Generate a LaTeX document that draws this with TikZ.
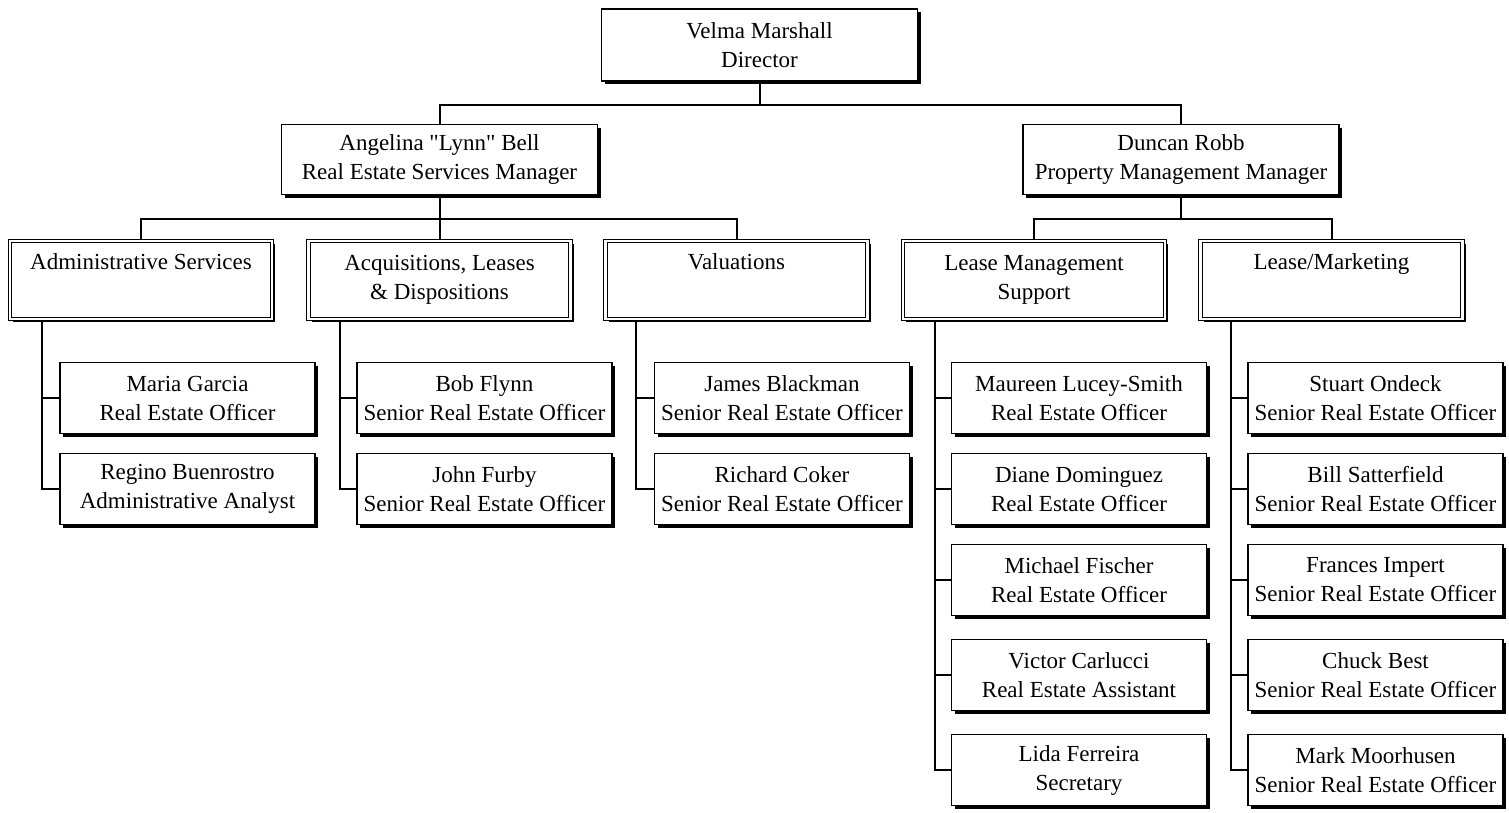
\documentclass[tikz,border=0pt]{standalone}
\usepackage{fontspec}
\setmainfont{Liberation Serif}[Ligatures=TeXOff]
\usetikzlibrary{shadows}
\begin{document}
\begin{tikzpicture}[x=0.5pt,y=-0.5pt,
  base/.style={draw, line width=0.75pt, fill=white, align=center, inner sep=0pt,
    font=\fontsize{11.5}{14.5}\selectfont,
    drop shadow={shadow xshift=1.6pt, shadow yshift=-1.6pt, opacity=1, fill=black}},
  topbox/.style={base, minimum width=158pt, minimum height=36pt},
  mgrbox/.style={base, minimum width=158pt, minimum height=35pt},
  deptbox/.style={base, double, double distance=1.1pt, line width=0.6pt, minimum width=131pt, minimum height=39pt},
  empbox/.style={base, minimum width=127.5pt, minimum height=35.5pt},
  link/.style={line width=1pt}]
\useasboundingbox (0,0) rectangle (1509,813);

% top
\node[topbox] (dir) at (759.5,45) {Velma Marshall\\Director};
\node[mgrbox] (ang) at (439.5,159.5) {Angelina "Lynn" Bell\\Real Estate Services Manager};
\node[mgrbox] (dun) at (1181,159.5) {Duncan Robb\\Property Management Manager};

% departments
\node[deptbox] (adm) at (141,280) {Administrative Services\\\strut};
\node[deptbox] (acq) at (439.5,280) {Acquisitions, Leases\\\& Dispositions};
\node[deptbox] (val) at (736.5,280) {Valuations\\\strut};
\node[deptbox] (lms) at (1034,280) {Lease Management\\Support};
\node[deptbox] (lmk) at (1331.5,280) {Lease/Marketing\\\strut};

% employees
\node[empbox] (mg) at (187.5,398) {Maria Garcia\\Real Estate Officer};
\node[empbox] (rb) at (187.5,489) {Regino Buenrostro\\Administrative Analyst};
\node[empbox] (bf) at (484.5,398) {Bob Flynn\\Senior Real Estate Officer};
\node[empbox] (jf) at (484.5,489) {John Furby\\Senior Real Estate Officer};
\node[empbox] (jb) at (782,398) {James Blackman\\Senior Real Estate Officer};
\node[empbox] (rc) at (782,489) {Richard Coker\\Senior Real Estate Officer};

\node[empbox] (ml) at (1079,398) {Maureen Lucey-Smith\\Real Estate Officer};
\node[empbox] (dd) at (1079,489) {Diane Dominguez\\Real Estate Officer};
\node[empbox] (mf) at (1079,580) {Michael Fischer\\Real Estate Officer};
\node[empbox] (vc) at (1079,675) {Victor Carlucci\\Real Estate Assistant};
\node[empbox] (lf) at (1079,770) {Lida Ferreira\\Secretary};

\node[empbox] (so) at (1375.5,398) {Stuart Ondeck\\Senior Real Estate Officer};
\node[empbox] (bs) at (1375.5,489) {Bill Satterfield\\Senior Real Estate Officer};
\node[empbox] (fi) at (1375.5,580) {Frances Impert\\Senior Real Estate Officer};
\node[empbox] (cb) at (1375.5,675) {Chuck Best\\Senior Real Estate Officer};
\node[empbox] (mm) at (1375.5,770) {Mark Moorhusen\\Senior Real Estate Officer};

% connectors
\draw[link] (dir.south) -- ++(0,23) -| (ang.north);
\draw[link] (dir.south) -- ++(0,23) -| (dun.north);

\draw[link] (ang.south) -- ++(0,24) -| (adm.north);
\draw[link] (ang.south) -- ++(0,24) -| (acq.north);
\draw[link] (ang.south) -- ++(0,24) -| (val.north);
\draw[link] (dun.south) -- ++(0,24) -| (lms.north);
\draw[link] (dun.south) -- ++(0,24) -| (lmk.north);

\coordinate (cadm) at (42,321);
\coordinate (cacq) at (340,321);
\coordinate (cval) at (636,321);
\coordinate (clms) at (935,321);
\coordinate (clmk) at (1231,321);

\draw[link] (cadm) |- (mg.west);
\draw[link] (cadm) |- (rb.west);
\draw[link] (cacq) |- (bf.west);
\draw[link] (cacq) |- (jf.west);
\draw[link] (cval) |- (jb.west);
\draw[link] (cval) |- (rc.west);
\draw[link] (clms) |- (ml.west);
\draw[link] (clms) |- (dd.west);
\draw[link] (clms) |- (mf.west);
\draw[link] (clms) |- (vc.west);
\draw[link] (clms) |- (lf.west);
\draw[link] (clmk) |- (so.west);
\draw[link] (clmk) |- (bs.west);
\draw[link] (clmk) |- (fi.west);
\draw[link] (clmk) |- (cb.west);
\draw[link] (clmk) |- (mm.west);
\end{tikzpicture}
\end{document}
